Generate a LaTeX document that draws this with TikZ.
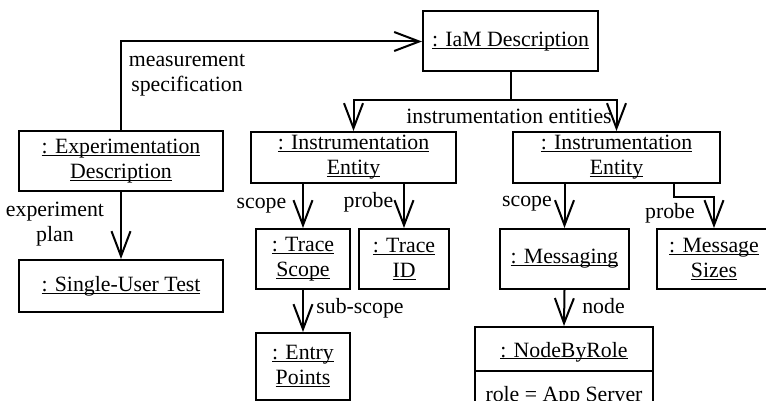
\documentclass[tikz,border=0pt]{standalone}
\usepackage{fontspec}
\setmainfont{Liberation Serif}
\usetikzlibrary{arrows.meta,calc,shapes.multipart}

% underlined object name, line close to the baseline
\newsavebox{\objbox}
\newcommand{\objname}[1]{\sbox{\objbox}{#1}\rlap{\rule[-1.2pt]{\wd\objbox}{0.55pt}}\usebox{\objbox}}

\begin{document}
\begin{tikzpicture}[x=0.5pt, y=-0.5pt, >={Straight Barb[length=12.5pt,width=9.5pt]},
  every node/.style={font=\fontsize{10.9}{12.5}\selectfont},
  obj/.style={draw, line width=1pt, align=center, inner sep=0pt},
  link/.style={->, line width=1pt},
  lbl/.style={align=center, inner sep=0pt}]
  \clip (0,0) rectangle (766,401);

  % object boxes
  \node (iam) at (510.5,41.5) [obj, minimum width=87.5pt, minimum height=30pt] {\objname{: IaM Description}};
  \node (expdesc) at (121,161) [obj, minimum width=102pt, minimum height=30pt] {\objname{: Experimentation}\\\objname{Description}};
  \node (sut) at (121,286) [obj, minimum width=102pt, minimum height=26pt] {\objname{: Single-User Test}};
  \node (ie1) at (353.5,157.5) [obj, minimum width=102.5pt, minimum height=25.5pt] {\objname{: Instrumentation}\\\objname{Entity}};
  \node (ie2) at (616.5,157.5) [obj, minimum width=103.5pt, minimum height=25.5pt] {\objname{: Instrumentation}\\\objname{Entity}};
  \node (tscope) at (303,259) [obj, minimum width=47pt, minimum height=30pt] {\objname{: Trace}\\\objname{Scope}};
  \node (tid) at (404,259) [obj, minimum width=45pt, minimum height=30pt] {\objname{: Trace}\\\objname{ID}};
  \node (entry) at (303,366.5) [obj, minimum width=47pt, minimum height=33.5pt] {\objname{: Entry}\\\objname{Points}};
  \node (msg) at (564.5,259) [obj, minimum width=64.5pt, minimum height=30pt] {\objname{: Messaging}};
  \node (msize) at (714,259) [obj, minimum width=57pt, minimum height=30pt] {\objname{: Message}\\\objname{Sizes}};
  \node (nbr) at (564,326) [draw, line width=1pt, inner sep=0pt, anchor=north,
    rectangle split, rectangle split parts=2, minimum width=89pt]
    {\rule[-6.5pt]{0pt}{21pt}\objname{: NodeByRole}\nodepart{second}\rule[-6.5pt]{0pt}{21pt}role = App Server};

  % links
  \coordinate (fork) at (510.5,100);
  \draw [link] (expdesc.north) |- (iam.west);
  \draw [link] (iam.south) -- (fork) -| (ie1.north);
  \draw [link] (fork) -| (ie2.north);
  \draw [link] (expdesc.south) -- (sut.north);
  \draw [link] (ie1.south -| tscope.north) -- (tscope.north);
  \draw [link] (ie1.south -| tid.north) -- (tid.north);
  \draw [link] (tscope.south) -- (entry.north);
  \draw [link] (ie2.south -| msg.north) -- (msg.north);
  \draw [link] ($(ie2.south)+(57.5,0)$) -- ++(0,13) -| (msize.north);
  \draw [link] (msg.south) -- (nbr.north);

  % role names
  \node (lmeas) at (187,75) [lbl] {measurement\\specification};
  \node (lentities) at (509,116) [lbl] {instrumentation entities};
  \node (lplan) at (55,224) [lbl] {experiment\\plan};
  \node (lscope1) at (261.5,206) [lbl] {scope};
  \node (lprobe1) at (368.5,202) [lbl] {probe};
  \node (lscope2) at (527,204) [lbl] {scope};
  \node (lprobe2) at (670,213) [lbl] {probe};
  \node (lsub) at (360,308) [lbl] {sub-scope};
  \node (lnode) at (603.5,306) [lbl] {node};
\end{tikzpicture}
\end{document}
